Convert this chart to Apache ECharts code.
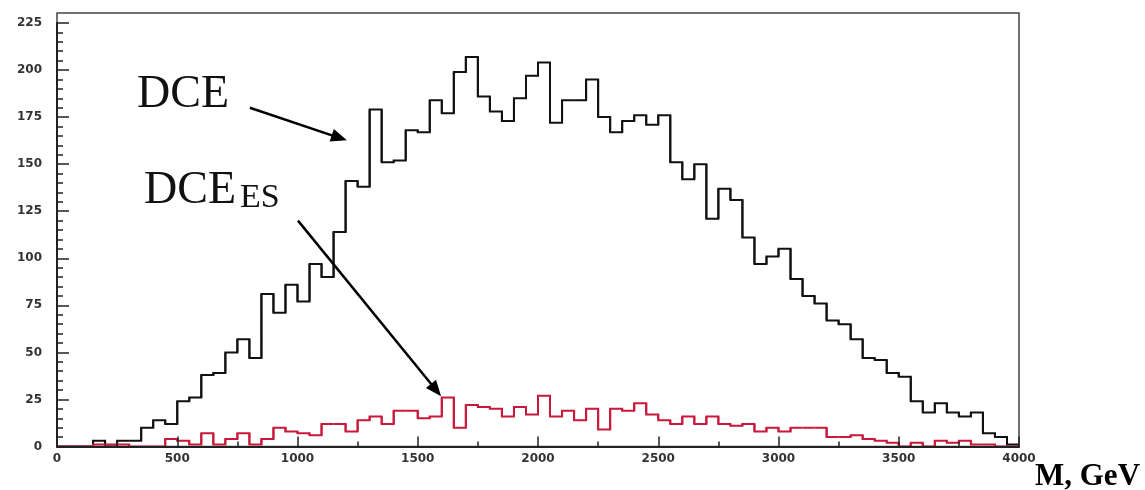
<!DOCTYPE html>
<html>
<head>
    <meta charset="utf-8">
    <script src="https://cdn.jsdelivr.net/npm/echarts@6/dist/echarts.min.js"></script>
</head>
<body style="margin:0;background:#fff;">
<div id="main" style="width: 1145px;height:490px;"></div>

<script type="text/javascript">
    // histogram bins: 50 GeV wide, starting at 0
    var binStart = 0;
    var binWidth = 50;

    // DCE (black), one value per bin
    var dceCounts = [
        0, 0, 0, 3, 0, 3, 3, 10, 14, 12,
        24, 26, 38, 39, 50, 57, 47, 81, 71, 86,
        77, 97, 90, 114, 141, 138, 179, 151, 152, 168,
        167, 184, 177, 199, 207, 186, 178, 173, 185, 197,
        204, 172, 184, 184, 195, 175, 167, 173, 176, 171,
        176, 151, 142, 150, 121, 137, 131, 111, 97, 101,
        105, 89, 80, 76, 67, 65, 57, 47, 46, 39,
        37, 24, 18, 23, 18, 16, 18, 7, 5, 1
    ];

    // DCE_ES (red)
    var dceEsCounts = [
        0, 0, 0, 1, 1, 1, 0, 0, 0, 4,
        3, 1, 7, 1, 4, 7, 1, 4, 10, 8,
        7, 6, 12, 12, 8, 14, 16, 12, 19, 19,
        15, 16, 26, 10, 22, 21, 20, 16, 21, 17,
        27, 16, 19, 14, 20, 9, 20, 19, 23, 17,
        14, 12, 16, 12, 16, 12, 11, 12, 8, 10,
        8, 10, 10, 10, 5, 5, 6, 4, 3, 2,
        0, 2, 0, 3, 2, 3, 1, 1, 0, 0
    ];

    // arrows, in data coordinates [from, to]
    var arrowDce = [[802, 180], [1174, 164]];
    var arrowDceEs = [[1002, 120], [1576, 30]];

    // one item per bin: [left edge, right edge, previous, value, next]
    function toBins(counts) {
        return counts.map(function (v, i) {
            var prev = i > 0 ? counts[i - 1] : 0;
            var next = i < counts.length - 1 ? counts[i + 1] : 0;
            return [binStart + i * binWidth, binStart + (i + 1) * binWidth, prev, v, next];
        });
    }

    function histRenderer(color) {
        return function (params, api) {
            var x0 = api.value(0), x1 = api.value(1);
            var pts = [
                api.coord([x0, api.value(2)]),
                api.coord([x0, api.value(3)]),
                api.coord([x1, api.value(3)]),
                api.coord([x1, api.value(4)])
            ];
            return {
                type: 'polyline',
                shape: {points: pts},
                style: {stroke: color, lineWidth: 2, fill: null, lineJoin: 'miter'}
            };
        };
    }

    var tickFont = {
        fontFamily: 'DejaVu Sans',
        fontSize: 12,
        fontWeight: 'bold',
        color: '#333',
        formatter: function (v) { return String(v); }
    };

    var myChart = echarts.init(document.getElementById('main'));
    myChart.setOption({
        animation: false,
        backgroundColor: '#fff',
        grid: [
            {left: 57, top: 23, right: 126, bottom: 43.5},
            {left: 57, top: 13, right: 126, bottom: 43.5, show: true,
                borderColor: '#444', borderWidth: 1.5, backgroundColor: 'transparent'}
        ],
        xAxis: [
            {
                type: 'value', min: 0, max: 4000, interval: 500, z: 5,
                axisLine: {lineStyle: {color: '#222', width: 2}},
                axisTick: {inside: true, length: 10, lineStyle: {color: '#222', width: 1.5}},
                minorTick: {show: true, splitNumber: 2, length: 5, lineStyle: {color: '#222', width: 1.5}},
                splitLine: {show: false},
                axisLabel: Object.assign({margin: 6}, tickFont)
            },
            {gridIndex: 1, type: 'value', min: 0, max: 1, show: false}
        ],
        yAxis: [
            {
                type: 'value', min: 0, max: 225, interval: 25, z: 5,
                axisLine: {show: true, lineStyle: {color: '#222', width: 2}},
                axisTick: {show: true, inside: true, length: 12, lineStyle: {color: '#222', width: 1.5}},
                minorTick: {show: true, splitNumber: 5, length: 6, lineStyle: {color: '#222', width: 1.5}},
                splitLine: {show: false},
                axisLabel: Object.assign({margin: 15}, tickFont)
            },
            {gridIndex: 1, type: 'value', min: 0, max: 1, show: false}
        ],
        series: [
            {
                name: 'DCE',
                type: 'custom',
                renderItem: histRenderer('#111'),
                encode: {x: [0, 1], y: [2, 3, 4]},
                data: toBins(dceCounts),
                clip: true
            },
            {
                name: 'DCE_ES',
                type: 'custom',
                renderItem: histRenderer('#c8193a'),
                encode: {x: [0, 1], y: [2, 3, 4]},
                data: toBins(dceEsCounts),
                clip: true
            },
            {
                name: 'arrows',
                type: 'line',
                data: [],
                markLine: {
                    silent: true,
                    symbol: ['none', 'triangle'],
                    symbolSize: [13, 16],
                    label: {show: false},
                    lineStyle: {color: '#000', width: 2.5, type: 'solid'},
                    data: [
                        [{coord: arrowDce[0]}, {coord: arrowDce[1]}],
                        [{coord: arrowDceEs[0]}, {coord: arrowDceEs[1]}]
                    ]
                }
            }
        ],
        graphic: [
            {type: 'text', left: 137, top: 72,
                style: {text: 'DCE', font: '46px "Liberation Serif"', fill: '#111'}},
            {type: 'text', left: 144, top: 168,
                style: {text: 'DCE', font: '46px "Liberation Serif"', fill: '#111'}},
            {type: 'text', left: 240, top: 181,
                style: {text: 'ES', font: '34px "Liberation Serif"', fill: '#111'}},
            {type: 'text', left: 1035, top: 461,
                style: {text: 'M, GeV', font: 'bold 31px "Liberation Serif"', fill: '#000'}}
        ]
    });
</script>
</body>
</html>
